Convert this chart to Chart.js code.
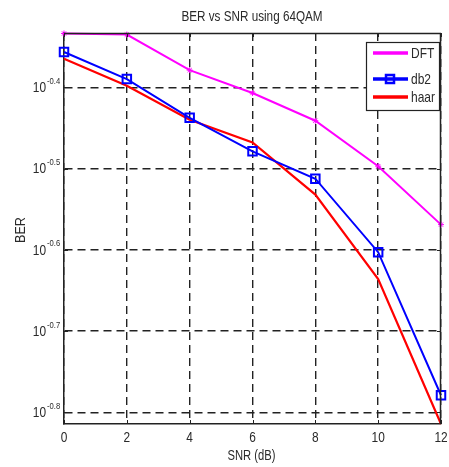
<!DOCTYPE html>
<html><head><meta charset="utf-8">
<script src="https://cdn.jsdelivr.net/npm/chart.js@4"></script>
<style>html,body{margin:0;padding:0;background:#fff}#wrap{width:449px;height:467px}</style>
</head><body><div id="wrap"><canvas id="c" width="449" height="467"></canvas></div>
<script>
// ---- data ----
const snr = [0, 2, 4, 6, 8, 10, 12];
const berDFT  = [0.4639, 0.4624, 0.4181, 0.3918, 0.3622, 0.3184, 0.2698];
const berDb2  = [0.4402, 0.4076, 0.3652, 0.3321, 0.3073, 0.2495, 0.1663];
const berHaar = [0.4318, 0.3999, 0.3633, 0.3406, 0.2938, 0.2312, 0.1533];
const yTickExponents = [-0.4, -0.5, -0.6, -0.7, -0.8];
const xTickValues = [0, 2, 4, 6, 8, 10, 12];
const yLimitExponents = [-0.8145, -0.333];
const seriesNames = ['DFT', 'db2', 'haar'];

const F = "'Liberation Sans',Arial,sans-serif";
const colors = ['#ff00ff', '#0000ff', '#ff0000'];
const TXT = '#2a2a2a';

// draw condensed text (real text, horizontally squeezed like the reference font)
function condText(ctx, str, x, y, size, align, sx) {
  ctx.save();
  ctx.font = size + 'px ' + F;
  ctx.textAlign = align;
  ctx.textBaseline = 'middle';
  ctx.translate(x, y);
  ctx.scale(sx, 1);
  ctx.fillText(str, 0, 0);
  ctx.restore();
}

const overlay = {
  id: 'overlay',
  afterDraw(chart) {
    const {ctx, chartArea: a, scales: {x, y}} = chart;
    ctx.save();
    ctx.strokeStyle = '#222';
    ctx.lineWidth = 1.5;
    ctx.setLineDash([]);
    // box top & right
    ctx.beginPath();
    ctx.moveTo(a.left, a.top + 0.5); ctx.lineTo(a.right, a.top + 0.5);
    ctx.moveTo(a.right - 0.5, a.top); ctx.lineTo(a.right - 0.5, a.bottom);
    ctx.stroke();
    // inner tick marks
    ctx.lineWidth = 1;
    ctx.beginPath();
    xTickValues.forEach(v => {
      const px = Math.round(x.getPixelForValue(v)) + 0.5;
      ctx.moveTo(px, a.top); ctx.lineTo(px, a.top + 4);
      ctx.moveTo(px, a.bottom); ctx.lineTo(px, a.bottom - 4);
    });
    yTickExponents.forEach(e => {
      const py = Math.round(y.getPixelForValue(Math.pow(10, e))) + 0.5;
      ctx.moveTo(a.left, py); ctx.lineTo(a.left + 4, py);
      ctx.moveTo(a.right, py); ctx.lineTo(a.right - 4, py);
    });
    ctx.stroke();

    ctx.fillStyle = TXT;
    // y tick labels 10^e
    yTickExponents.forEach(e => {
      const py = y.getPixelForValue(Math.pow(10, e));
      condText(ctx, '10', 46, py + 1, 14, 'right', 0.85);
      condText(ctx, String(e), 47, py - 6, 9, 'left', 0.85);
    });
    // x tick labels
    xTickValues.forEach(v => {
      condText(ctx, String(v), x.getPixelForValue(v), 438, 14, 'center', 0.85);
    });

    // titles
    const cx = (a.left + a.right) / 2;
    condText(ctx, 'BER vs SNR using 64QAM', cx - 0.5, 17, 15, 'center', 0.78);
    condText(ctx, 'SNR (dB)', cx - 1, 456, 14, 'center', 0.8);
    ctx.save();
    ctx.translate(21, 230);
    ctx.rotate(-Math.PI / 2);
    condText(ctx, 'BER', 0, 0, 14, 'center', 0.9);
    ctx.restore();

    // legend
    const lx = 366, ly = 42, lw = 73, lh = 68;
    ctx.fillStyle = '#fff';
    ctx.fillRect(lx, ly, lw, lh);
    ctx.strokeStyle = '#222';
    ctx.lineWidth = 1.2;
    ctx.strokeRect(lx + 0.5, ly + 0.5, lw, lh);
    const rows = [53, 79, 97];
    seriesNames.forEach((name, i) => {
      const ry = rows[i];
      ctx.strokeStyle = colors[i];
      ctx.lineWidth = 3.5;
      ctx.beginPath(); ctx.moveTo(373, ry); ctx.lineTo(408, ry); ctx.stroke();
      if (i === 1) {
        ctx.lineWidth = 2.5;
        ctx.strokeRect(386, ry - 4, 8, 8);
      }
      ctx.fillStyle = TXT;
      condText(ctx, name, 411, ry + 1, 15, 'left', 0.8);
    });
    ctx.restore();
  }
};

const mk = (arr) => snr.map((s, i) => ({x: s, y: arr[i]}));

new Chart(document.getElementById('c'), {
  type: 'line',
  data: {
    datasets: [
      {label: seriesNames[0], data: mk(berDFT), borderColor: colors[0], backgroundColor: colors[0],
       borderWidth: 2, pointStyle: 'star', pointRadius: 3, pointBorderWidth: 1, tension: 0, clip: false},
      {label: seriesNames[1], data: mk(berDb2), borderColor: colors[1], backgroundColor: 'rgba(0,0,0,0)',
       borderWidth: 2, pointStyle: 'rect', pointRadius: 6, pointBorderWidth: 2, tension: 0, clip: false},
      {label: seriesNames[2], data: mk(berHaar), borderColor: colors[2], backgroundColor: colors[2],
       borderWidth: 2.2, pointRadius: 0, tension: 0, clip: false}
    ]
  },
  options: {
    responsive: false,
    animation: false,
    events: [],
    layout: {padding: {top: 33, right: 5, left: 0, bottom: 0}},
    plugins: {legend: {display: false}, title: {display: false}, tooltip: {enabled: false}},
    scales: {
      x: {
        type: 'linear', min: 0, max: 12,
        afterBuildTicks: s => { s.ticks = xTickValues.map(v => ({value: v})); },
        afterFit: s => { s.height = 43; s.paddingLeft = 0; s.paddingRight = 0; },
        ticks: {display: false},
        grid: {color: '#222', lineWidth: 1.4, drawTicks: false},
        border: {display: true, color: '#222', width: 1.5, dash: [8, 5]}
      },
      y: {
        type: 'logarithmic',
        min: Math.pow(10, yLimitExponents[0]), max: Math.pow(10, yLimitExponents[1]),
        afterBuildTicks: s => { s.ticks = yTickExponents.map(e => ({value: Math.pow(10, e)})); },
        afterFit: s => { s.width = 64; s.paddingTop = 0; s.paddingBottom = 0; },
        ticks: {display: false},
        grid: {color: '#222', lineWidth: 1.4, drawTicks: false},
        border: {display: true, color: '#222', width: 1.5, dash: [8, 5]}
      }
    }
  },
  plugins: [overlay]
});
</script>
</body></html>
